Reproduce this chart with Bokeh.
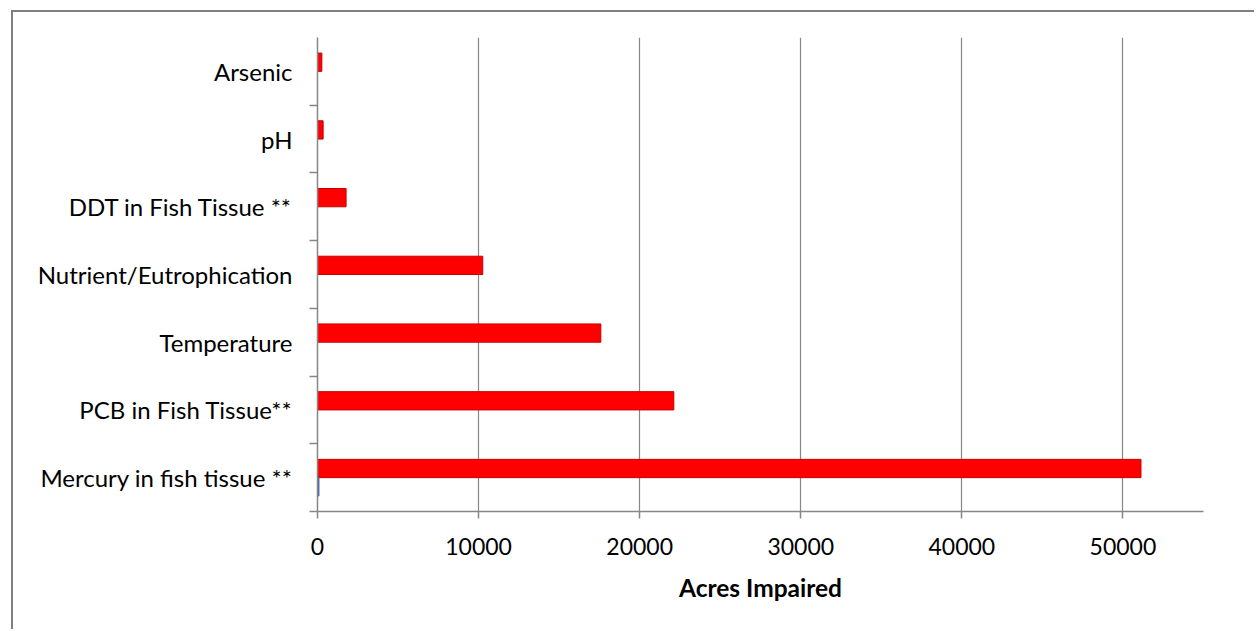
from bokeh.plotting import figure
from bokeh.models import ColumnDataSource, FixedTicker, Range1d
from bokeh.transform import dodge
from bokeh.embed import file_html
from bokeh.resources import INLINE

# Data (bottom to top)
categories = ["Mercury in fish tissue **", "PCB in Fish Tissue**", "Temperature",
              "Nutrient/Eutrophication", "DDT in Fish Tissue **", "pH", "Arsenic"]
acres_impaired = [51120, 22120, 17590, 10260, 1775, 350, 270]
second_series = [90, 0, 0, 0, 0, 0, 0]
x_ticks = [0, 10000, 20000, 30000, 40000, 50000]

centers = [i + 0.5 for i in range(len(categories))]
boundaries = [i for i in range(len(categories))]

src = ColumnDataSource(dict(y=centers, red=acres_impaired, blue=second_series))

W, H = 1243, 619
p = figure(width=W, height=H, output_backend="svg", toolbar_location=None,
           x_range=Range1d(0, 55000), y_range=Range1d(0, len(categories)),
           min_border_left=304, min_border_right=53, min_border_top=25, min_border_bottom=120)
p.styles = {"border-left": "2px solid #7f7f7f", "border-top": "2px solid #7f7f7f",
            "margin-left": "11px", "margin-top": "10px"}
p.outline_line_color = None
p.background_fill_color = "white"
p.border_fill_color = "white"

bar_h = 0.27
p.hbar(y=dodge("y", bar_h / 2, range=p.y_range), right="red", left=0, height=bar_h,
       source=src, fill_color="#FF0000", line_color="#C80000", line_width=1)
p.hbar(y=dodge("y", -bar_h / 2, range=p.y_range), right="blue", left=0, height=bar_h,
       source=src, fill_color="#3C64AF", line_color="#3C64AF", line_width=1)

font = "Lato"
# X axis
xa = p.xaxis[0]
xa.ticker = FixedTicker(ticks=x_ticks)
xa.axis_label = "Acres Impaired"
xa.axis_label_text_font = font
xa.axis_label_text_font_style = "bold"
xa.axis_label_text_font_size = "24.5px"
xa.axis_label_text_color = "#000000"
xa.axis_label_standoff = 15
xa.major_label_text_font = font
xa.major_label_text_font_size = "23px"
xa.major_label_text_color = "#000000"
xa.major_label_standoff = 19
xa.major_tick_out = 7
xa.major_tick_in = 0
xa.minor_tick_line_color = None
xa.axis_line_color = "#868686"
xa.major_tick_line_color = "#868686"
xa.axis_line_width = 1.5
xa.major_tick_line_width = 1.5

# Y axis
ya = p.yaxis[0]
ya.ticker = FixedTicker(ticks=centers, minor_ticks=boundaries)
ya.major_label_overrides = {c: lab for c, lab in zip(centers, categories)}
ya.major_label_text_font = font
ya.major_label_text_font_size = "24px"
ya.major_label_text_color = "#000000"
ya.major_label_standoff = 17
ya.major_tick_out = 0
ya.major_tick_in = 0
ya.major_tick_line_color = None
ya.minor_tick_out = 8
ya.minor_tick_in = 0
ya.minor_tick_line_color = "#868686"
ya.minor_tick_line_width = 1.5
ya.axis_line_color = "#868686"
ya.axis_line_width = 1.5

p.xgrid.ticker = FixedTicker(ticks=x_ticks[1:])
p.xgrid.grid_line_color = "#868686"
p.xgrid.grid_line_width = 1.2
p.ygrid.grid_line_color = None

open("out.html", "w").write(file_html(p, INLINE))
